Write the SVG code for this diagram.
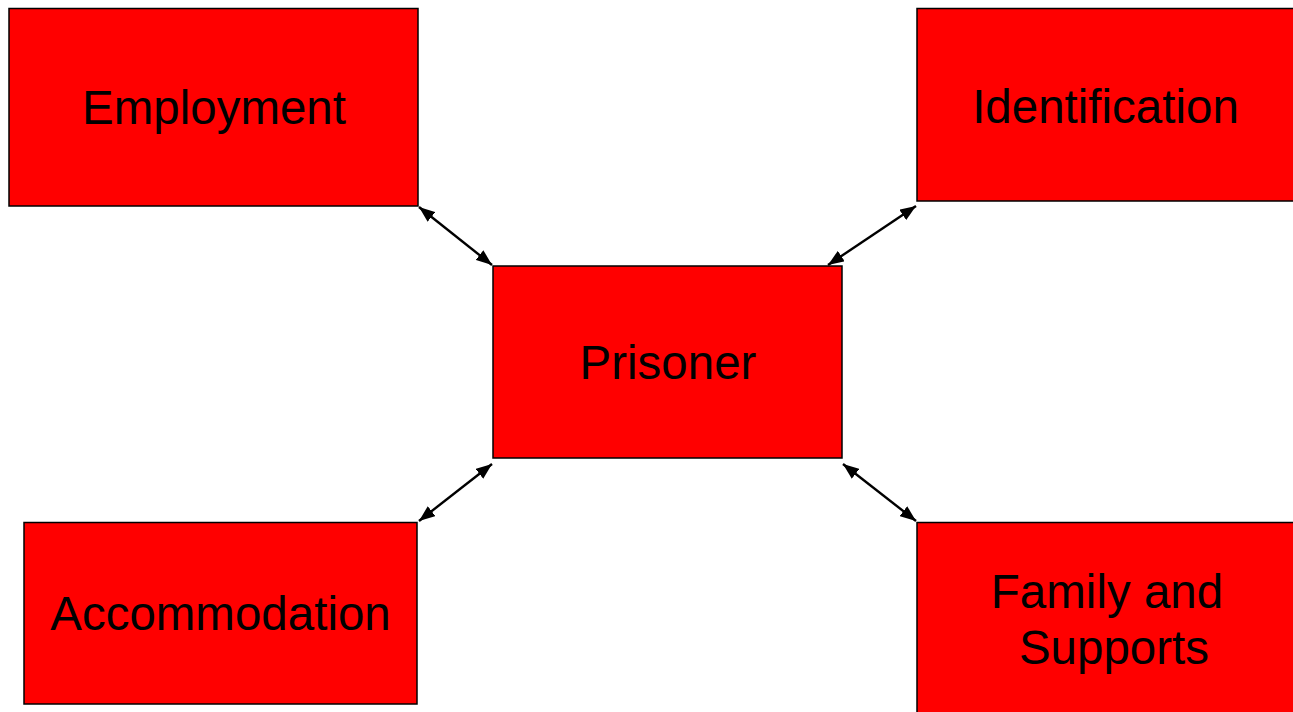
<svg xmlns="http://www.w3.org/2000/svg" width="1293" height="712" viewBox="0 0 1293 712">
<style>
.box{fill:#ff0000;stroke:#000;stroke-width:1.5}
.lbl{font-family:"Liberation Sans",Arial,sans-serif;font-size:47.5px;fill:#000;text-anchor:middle}
.con{stroke:#000;stroke-width:2.4;fill:none;marker-start:url(#ah);marker-end:url(#ah)}
</style>
<defs>
<marker id="ah" viewBox="0 0 10 10" refX="10" refY="5" markerWidth="16" markerHeight="12.5" preserveAspectRatio="none" orient="auto-start-reverse" markerUnits="userSpaceOnUse">
<path d="M0,0 L10,5 L0,10 z" fill="#000"/>
</marker>
</defs>
<rect width="1293" height="712" fill="#fff"/>
<g id="employment"><rect class="box" x="9" y="8.5" width="409" height="197.5"/><text class="lbl" x="214" y="124">Employment</text></g>
<g id="identification"><rect class="box" x="917" y="8.5" width="390" height="192.5"/><text class="lbl" x="1105.5" y="123">Identification</text></g>
<g id="prisoner"><rect class="box" x="493" y="266" width="349" height="192"/><text class="lbl" x="668" y="379">Prisoner</text></g>
<g id="accommodation"><rect class="box" x="24" y="522.5" width="393" height="181.5"/><text class="lbl" x="220.5" y="630">Accommodation</text></g>
<g id="family"><rect class="box" x="917" y="522.5" width="394" height="200"/><text class="lbl" x="1107" y="608">Family and</text><text class="lbl" x="1114" y="664">Supports</text></g>
<g id="connectors">
<line class="con" x1="419" y1="207" x2="492" y2="265"/>
<line class="con" x1="916" y1="206" x2="828" y2="265"/>
<line class="con" x1="492" y1="464" x2="419" y2="521"/>
<line class="con" x1="843" y1="464" x2="916" y2="521"/>
</g>
</svg>
